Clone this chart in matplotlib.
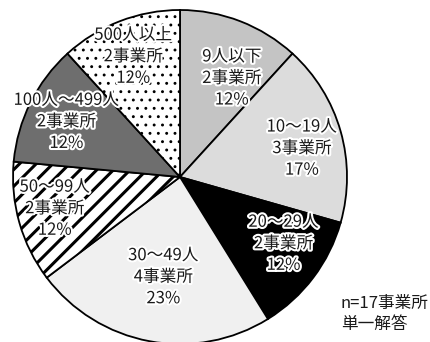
import matplotlib
matplotlib.use("Agg")
import matplotlib.pyplot as plt
import matplotlib.patheffects as pe
import numpy as np

plt.rcParams['font.family'] = ['Noto Sans CJK JP', 'DejaVu Sans']
plt.rcParams['hatch.linewidth'] = 2.2

categories = ["9人以下", "10〜19人", "20〜29人", "30〜49人",
              "50〜99人", "100人〜499人", "500人以上"]
counts = [2, 3, 2, 4, 2, 2, 2]
pct_labels = ["12%", "17%", "12%", "23%", "12%", "12%", "12%"]
colors = ["#c4c4c4", "#dcdcdc", "#000000", "#f0f0f0",
          "#ffffff", "#6e6e6e", "#ffffff"]
hatches = [None, None, None, None, "//", None, ".."]
hatch_lw = [None, None, None, None, 2.2, None, 0.9]
# label anchors in pie units (center 0,0, radius 1)
label_pos = [(0.31, 0.59), (0.73, 0.17), (0.62, -0.40), (-0.10, -0.60),
             (-0.75, -0.19), (-0.68, 0.33), (-0.28, 0.72)]

fig = plt.figure(figsize=(4.31, 3.42), dpi=100)
ax = fig.add_axes([13 / 431, -2 / 342, 334 / 431, 334 / 342])

wedges, _ = ax.pie(counts, colors=colors, startangle=90, counterclock=False,
                   wedgeprops=dict(edgecolor="black", linewidth=1.3))
for w, h, lw in zip(wedges, hatches, hatch_lw):
    if h:
        w.set_hatch(h)
        if hasattr(w, "set_hatch_linewidth"):
            w.set_hatch_linewidth(lw)

halo = [pe.withStroke(linewidth=3, foreground="white")]
for cat, n, p, (x, y) in zip(categories, counts, pct_labels, label_pos):
    ax.text(x, y, f"{cat}\n{n}事業所\n{p}", ha="center", va="center",
            fontsize=12, linespacing=1.35, color="#1a1a1a", path_effects=halo)

ax.set_xlim(-1, 1)
ax.set_ylim(-1, 1)
ax.set_aspect("equal")

fig.text(341 / 431, 1 - 314 / 342, "n=17事業所\n単一解答", ha="left",
         va="center", fontsize=12, linespacing=1.25, color="#1a1a1a")

fig.savefig("out.png", dpi=100)
